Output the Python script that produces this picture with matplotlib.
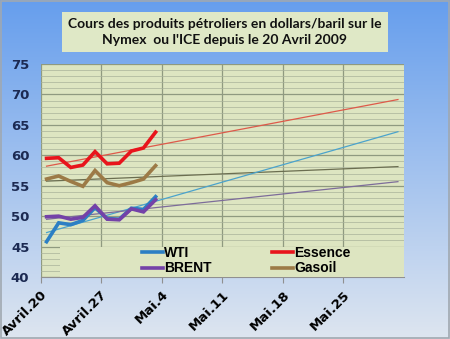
import numpy as np
import matplotlib
matplotlib.use("Agg")
import matplotlib.pyplot as plt
from matplotlib.lines import Line2D
from matplotlib.legend import Legend
from matplotlib.patches import Rectangle

# ---- data ----
tick_labels = ["Avril.20", "Avril.27", "Mai.4", "Mai.11", "Mai.18", "Mai.25"]
n_categories = 30
wti = [45.8, 48.9, 48.6, 49.3, 51.4, 49.6, 49.5, 51.3, 51.1, 53.2]
brent = [49.9, 50.0, 49.5, 49.8, 51.7, 49.5, 49.4, 51.2, 50.7, 52.7]
essence = [59.5, 59.6, 58.0, 58.4, 60.6, 58.6, 58.7, 60.7, 61.2, 63.8]
gasoil = [56.1, 56.6, 55.7, 54.9, 57.5, 55.5, 55.0, 55.5, 56.1, 58.3]
series_names = ["WTI", "BRENT", "Essence", "Gasoil"]

W, H, DPI = 450, 339, 100
fig = plt.figure(figsize=(W / DPI, H / DPI), dpi=DPI)

# background gradient
bg = fig.add_axes([0, 0, 1, 1], zorder=-10)
grad = np.linspace(0, 1, 256).reshape(-1, 1)
top = np.array([0.40, 0.62, 0.93])
bot = np.array([0.87, 0.90, 0.94])
img = top[None, None, :] * (1 - grad[:, :, None]) + bot[None, None, :] * grad[:, :, None]
bg.imshow(img, aspect="auto", extent=[0, 1, 0, 1])
bg.add_patch(Rectangle((0.002, 0.003), 0.995, 0.993, fill=False, ec="#a0a8b0", lw=1.2,
                       transform=bg.transAxes))
bg.set_axis_off()

# title box
fig.patches.append(Rectangle((62 / W, 1 - 52 / H), (388 - 62) / W, 40 / H,
                             transform=fig.transFigure, fc="#dfe8c6", ec="none", zorder=1))
fig.text(225 / W, 1 - 32 / H, "Cours des produits pétroliers en dollars/baril sur le\nNymex  ou l'ICE depuis le 20 Avril 2009",
         ha="center", va="center", fontsize=10, fontweight="bold", family="Lato",
         linespacing=1.5, color="#111111", zorder=2)

# plot axes
x0, x1, y0, y1 = 40.5, 404, 64, 277
ax = fig.add_axes([x0 / W, 1 - y1 / H, (x1 - x0) / W, (y1 - y0) / H])
ax.set_facecolor("#dde5c1")
ax.set_xlim(0, n_categories)
ax.set_ylim(40, 75)

ax.set_yticks(np.arange(40, 76, 5))
ax.set_yticks(np.arange(40, 76, 1), minor=True)
ax.set_xticks(np.arange(0, 26, 5))
ax.set_xticklabels(tick_labels, rotation=45, ha="right", rotation_mode="anchor",
                   fontsize=9.5, fontweight="bold")
for lab in ax.get_yticklabels():
    lab.set_fontweight("bold")
    lab.set_fontsize(9.5)
    lab.set_color("#1c2a52")
ax.tick_params(axis="y", which="both", length=0, pad=8)
ax.tick_params(axis="x", length=4, color="#909090", pad=4)
ax.grid(axis="y", which="major", color="#8f9a80", lw=0.9)
ax.grid(axis="y", which="minor", color="#a8b29a", lw=0.5)
ax.grid(axis="x", which="major", color="#8f9a80", lw=0.9)
for s in ["top", "right", "left"]:
    ax.spines[s].set_visible(False)
ax.spines["bottom"].set_color("#909090")

x = np.arange(len(wti)) + 0.5
colors = {"WTI": "#2c7fc4", "BRENT": "#7442a8", "Essence": "#e8141c", "Gasoil": "#9c7a46"}
trend_colors = {"WTI": "#4ba3cc", "BRENT": "#7d6c9a", "Essence": "#de5a4a", "Gasoil": "#6b6e50"}
data = {"WTI": wti, "BRENT": brent, "Essence": essence, "Gasoil": gasoil}
xt = np.array([0.5, n_categories - 0.5])
for name in ["Essence", "Gasoil", "WTI", "BRENT"]:
    y = np.array(data[name])
    k, b = np.polyfit(x, y, 1)
    ax.plot(xt, k * xt + b, color=trend_colors[name], lw=0.9, zorder=3)
for name in ["Essence", "Gasoil", "WTI", "BRENT"]:
    ax.plot(x, data[name], color=colors[name], lw=2.6, zorder=4, solid_joinstyle="miter")

# legend box
ax.add_patch(Rectangle((1.6, 40), n_categories - 1.6, 5.0,
                       fc="#dde5c1", ec="none", zorder=5))
prop = {"weight": "bold", "size": 10, "family": "Liberation Sans"}
aw = x1 - x0
ah = y1 - y0
for cols, xl in ((series_names[:2], 142), (series_names[2:], 272)):
    handles = [Line2D([], [], color=colors[n], lw=2.6) for n in cols]
    leg = Legend(ax, handles, cols, loc="upper left",
                 bbox_to_anchor=((xl - x0) / aw, (y1 - 246) / ah), frameon=False,
                 prop=prop, handlelength=1.5, handletextpad=0.1,
                 labelspacing=0.1, borderaxespad=0, borderpad=0)
    leg.set_zorder(6)
    ax.add_artist(leg)
ax.text(99 - x0, 43.5, "RayBon Mai\n2009", transform=ax.transData, ha="center", va="center",
        fontsize=7, fontweight="bold", family="Liberation Sans", zorder=6, linespacing=1.3)

fig.savefig("out.png", dpi=DPI)
